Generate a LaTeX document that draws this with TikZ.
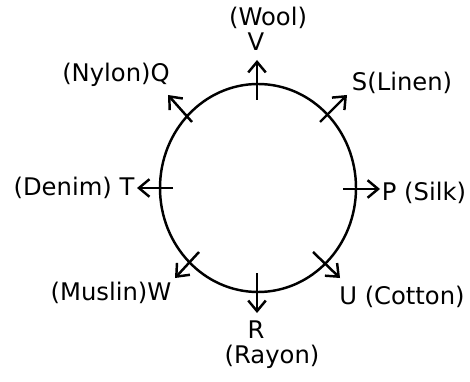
\documentclass[tikz,border=0pt]{standalone}
\usepackage{fontspec}
\setmainfont{DejaVu Sans}
\usetikzlibrary{arrows.meta}

\begin{document}
\begin{tikzpicture}[x=0.2mm,y=-0.2mm,>={Straight Barb[length=6pt,width=10pt]},
  ring/.style={line width=1.4pt},
  spoke/.style={line width=1.4pt,->},
  fabric/.style={inner sep=0pt,font=\fontsize{13.8}{15}\selectfont}]
  \useasboundingbox (0,0) rectangle (470,382);
  \coordinate (hub) at (258,188);
  \draw[ring] (hub) ellipse [x radius=19.6mm, y radius=20.8mm];
  % arrow ends
  \coordinate (vin) at (257,100);  \coordinate (vtip) at (257,60);
  \coordinate (pin) at (343,189);  \coordinate (ptip) at (380,189);
  \coordinate (tin) at (173,188);  \coordinate (ttip) at (137,188);
  \coordinate (rin) at (257,273);  \coordinate (rtip) at (257,313);
  \coordinate (sin) at (320,122);  \coordinate (stip) at (347,95);
  \coordinate (qin) at (192,122);  \coordinate (qtip) at (168,95);
  \coordinate (win) at (199,252);  \coordinate (wtip) at (175,278);
  \coordinate (uin) at (313,252);  \coordinate (utip) at (340,278);
  \draw[spoke] (vin) -- (vtip);
  \draw[spoke] (pin) -- (ptip);
  \draw[spoke] (tin) -- (ttip);
  \draw[spoke] (rin) -- (rtip);
  \draw[spoke] (sin) -- (stip);
  \draw[spoke] (qin) -- (qtip);
  \draw[spoke] (win) -- (wtip);
  \draw[spoke] (uin) -- (utip);
  % labels
  \node[fabric] (wool) at (268,18) {(Wool)};
  \node[fabric] (v) at (256,42) {V};
  \node[fabric] (q) at (116,75) {(Nylon)Q};
  \node[fabric] (s) at (402,83) {S(Linen)};
  \node[fabric] (p) at (424,193) {P (Silk)};
  \node[fabric] (t) at (74,188) {(Denim) T};
  \node[fabric] (w) at (111,293) {(Muslin)W};
  \node[fabric] (u) at (402,297) {U (Cotton)};
  \node[fabric] (r) at (256,330) {R};
  \node[fabric] (rayon) at (272,357) {(Rayon)};
\end{tikzpicture}
\end{document}
